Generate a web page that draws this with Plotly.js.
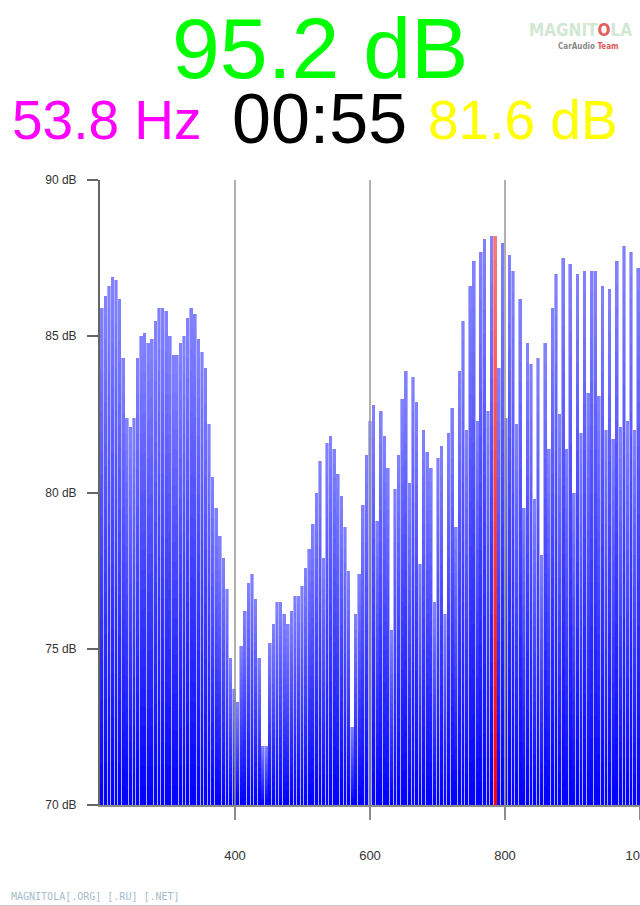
<!DOCTYPE html>
<html>
<head>
<meta charset="utf-8">
<script src="https://cdn.plot.ly/plotly-3.0.1.min.js"></script>
<style>
  html, body { margin: 0; padding: 0; background: #ffffff; }
  #chart { width: 640px; height: 906px; }
</style>
</head>
<body>
<div id="chart"></div>
<script>
// ---- data ----
var freqStart = 200;
var freqEnd = 1000;
var levels = [
  85.9, 86.3, 86.6, 86.9, 86.8, 86.2, 84.3, 82.4, 82.1, 82.4,
  84.3, 85.0, 85.1, 84.8, 84.9, 85.5, 85.9, 85.9, 85.8, 85.0,
  84.4, 84.4, 84.8, 85.0, 85.6, 85.9, 85.7, 84.9, 84.5, 84.0,
  82.2, 80.5, 79.5, 78.6, 77.9, 76.9, 74.7, 73.7, 73.3,
  75.1, 76.2, 77.1, 77.4, 76.6, 74.7, 71.9, 71.9, 75.2, 75.8,
  76.5, 76.5, 76.1, 75.8, 76.2, 76.7, 76.7, 77.0, 77.6, 78.2,
  79.0, 80.0, 81.0, 77.9, 81.6, 81.8, 81.4, 80.6, 79.9, 78.9,
  77.5, 72.5, 76.1, 77.4, 79.6, 81.2, 82.3, 82.8,
  79.1, 82.6, 81.8, 80.8, 75.6, 80.1, 81.2, 83.0, 83.9, 80.3,
  83.7, 82.9, 77.7, 82.0, 81.3, 80.8, 76.5, 81.1, 81.5, 76.1,
  81.9, 82.7, 78.9, 83.9, 85.5, 82.0, 86.6, 87.4, 82.3, 87.7,
  88.1, 82.6, 88.2, 88.2, 84.0, 88.0, 82.4,
  87.6, 87.1, 82.2, 86.2, 79.5, 84.8, 84.1, 79.8, 84.3, 78.0,
  84.8, 81.4, 85.9, 87.0, 82.5, 87.5, 81.4, 87.3, 80.0, 87.0,
  81.9, 87.1, 83.2, 87.1, 87.1, 83.1, 86.6, 82.0, 86.5, 81.7,
  87.4, 82.1, 87.9, 82.3, 87.7, 82.0, 87.2
];
var peakIndex = 110;           // highlighted (red) bin
var yTickVals = [70, 75, 80, 85, 90];
var yTickText = ['70 dB', '75 dB', '80 dB', '85 dB', '90 dB'];
var xTickVals = [400, 600, 800, 1000];
var xTickText = ['400', '600', '800', '1000'];
var peakLevel = '95.2 dB';
var peakFreq = '53.8 Hz';
var elapsed = '00:55';
var avgLevel = '81.6 dB';
var siteText = 'MAGNITOLA[.ORG] [.RU] [.NET]';

// ---- build traces ----
var yMin = 70, yMax = 90;
var n = levels.length;
var step = (freqEnd - freqStart) / n;
var xs = levels.map(function (v, i) { return freqStart + (i + 0.5) * step; });

function mix(c0, c1, t) {
  return 'rgb(' + Math.round(c0[0] + (c1[0] - c0[0]) * t) + ',' +
                  Math.round(c0[1] + (c1[1] - c0[1]) * t) + ',' +
                  Math.round(c0[2] + (c1[2] - c0[2]) * t) + ')';
}
var blueBottom = [0, 0, 255], blueTop = [132, 132, 255];
var redBottom = [255, 0, 0], redTop = [255, 118, 118];

var traces = [];
// light separator layer (full slot width)
traces.push({
  type: 'bar', x: xs, y: levels.map(function (v) { return v - yMin; }),
  base: yMin, width: step,
  marker: { color: levels.map(function (v, i) { return i === peakIndex ? 'rgb(255,150,150)' : 'rgb(176,176,255)'; }), line: { width: 0 } },
  hoverinfo: 'skip', showlegend: false
});
var N = 24;
for (var k = 0; k < N; k++) {
  var t = (k + 0.5) / N;
  var bases = levels.map(function (v) { return yMin + (v - yMin) * k / N; });
  traces.push({
    type: 'bar', x: xs,
    y: levels.map(function (v, i) { return v - bases[i]; }),
    base: bases, width: step * 0.78,
    marker: {
      color: levels.map(function (v, i) { return i === peakIndex ? mix(redBottom, redTop, t) : mix(blueBottom, blueTop, t); }),
      line: { width: 0 }
    },
    hoverinfo: 'skip', showlegend: false
  });
}

// ---- layout ----
var L = 100, R = 0, T = 180, B = 101, W = 640, H = 906;
var pw = W - L - R, ph = H - T - B;
function px2x(p) { return (p - L) / pw; }
function px2y(p) { return (H - B - p) / ph; }
var font = 'Liberation Sans, Arial, Helvetica, sans-serif';
var condensed = 'DejaVu Sans Condensed, Liberation Sans Narrow, sans-serif';

var shapes = xTickVals.slice(0, 3).map(function (v) {
  return { type: 'line', xref: 'x', yref: 'paper', x0: v, x1: v, y0: 0, y1: 1,
           line: { color: 'rgba(150,150,150,0.75)', width: 2 }, layer: 'above' };
});
shapes.push({ type: 'line', xref: 'paper', yref: 'paper', x0: px2x(0), x1: 1, y0: px2y(905.5), y1: px2y(905.5),
              line: { color: '#c4c4c4', width: 1 } });

var annotations = [
  { text: peakLevel, xref: 'paper', yref: 'paper', x: px2x(320), y: px2y(48), xanchor: 'center', yanchor: 'middle',
    showarrow: false, font: { family: font, size: 86, color: '#00ff00' } },
  { text: peakFreq, xref: 'paper', yref: 'paper', x: px2x(10), y: px2y(120), xanchor: 'left', yanchor: 'middle',
    showarrow: false, font: { family: font, size: 55, color: '#ff00ff' } },
  { text: elapsed, xref: 'paper', yref: 'paper', x: px2x(319), y: px2y(119), xanchor: 'center', yanchor: 'middle',
    showarrow: false, font: { family: font, size: 70, color: '#000000' } },
  { text: avgLevel, xref: 'paper', yref: 'paper', x: px2x(620), y: px2y(120), xanchor: 'right', yanchor: 'middle',
    showarrow: false, font: { family: font, size: 55, color: '#ffff00' } },
  { text: '<b>MAGNIT<span style="color:#e06060">O</span>LA</b>', xref: 'paper', yref: 'paper', x: px2x(580), y: px2y(30),
    xanchor: 'center', yanchor: 'middle', showarrow: false,
    font: { family: condensed, size: 17, color: '#d2e8d2' } },
  { text: '<b>CarAudio <span style="color:#e05a5a">Team</span></b>', xref: 'paper', yref: 'paper', x: px2x(621), y: px2y(47),
    xanchor: 'right', yanchor: 'middle', showarrow: false,
    font: { family: condensed, size: 8, color: '#8a8a8a' } },
  { text: siteText, xref: 'paper', yref: 'paper', x: px2x(9), y: px2y(896), xanchor: 'left', yanchor: 'middle',
    showarrow: false, font: { family: 'DejaVu Sans Mono, monospace', size: 10, color: '#a4bccc' } }
];

var layout = {
  width: W, height: H,
  margin: { l: L, r: R, t: T, b: B, pad: 0 },
  paper_bgcolor: '#ffffff', plot_bgcolor: '#ffffff',
  barmode: 'overlay', bargap: 0,
  showlegend: false,
  xaxis: {
    range: [freqStart, freqEnd], tickmode: 'array', tickvals: xTickVals, ticktext: xTickText,
    showgrid: false, zeroline: false, showline: true, linecolor: '#8c8c8c', linewidth: 2,
    ticks: 'outside', ticklen: 13, tickwidth: 2, tickcolor: '#8c8c8c',
    ticklabelstandoff: 24, ticklabeloverflow: 'allow',
    tickfont: { family: font, size: 13, color: '#333333' }, layer: 'above traces', fixedrange: true
  },
  yaxis: {
    range: [yMin, yMax], tickmode: 'array', tickvals: yTickVals, ticktext: yTickText,
    showgrid: false, zeroline: false, showline: true, linecolor: '#666666', linewidth: 2,
    ticks: 'outside', ticklen: 11, tickwidth: 2, tickcolor: '#666666',
    ticklabelstandoff: 8,
    tickfont: { family: font, size: 12, color: '#333333' }, layer: 'above traces', fixedrange: true
  },
  shapes: shapes,
  annotations: annotations
};

Plotly.newPlot('chart', traces, layout, { staticPlot: true, displayModeBar: false });
</script>
</body>
</html>
